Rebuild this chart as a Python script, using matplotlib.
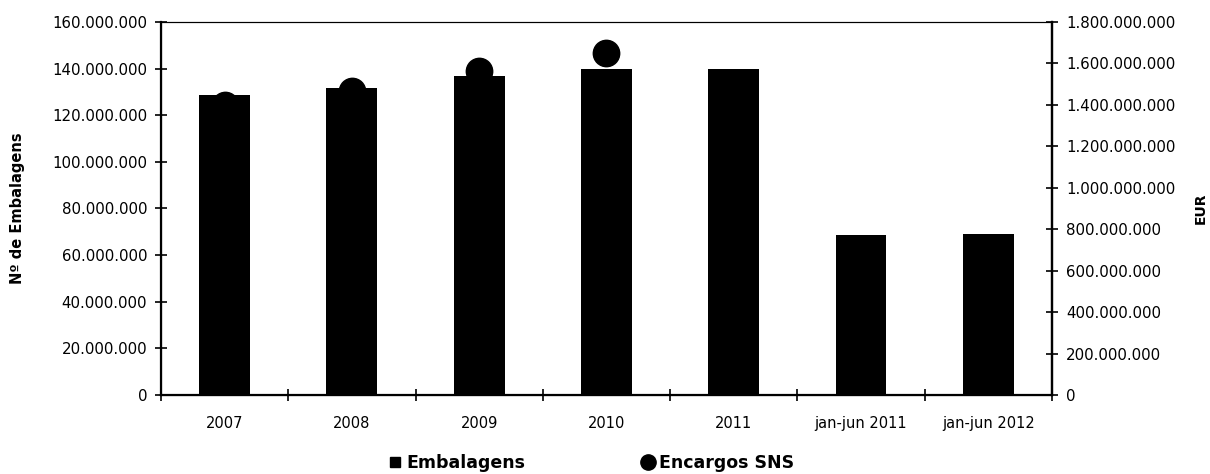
import numpy as np
import matplotlib.pyplot as plt
from matplotlib.lines import Line2D
from matplotlib.ticker import FuncFormatter

categories = ["2007", "2008", "2009", "2010", "2011", "jan-jun 2011", "jan-jun 2012"]
embalagens = [128700000, 131700000, 137000000, 139800000, 139800000, 68600000, 69000000]
encargos_sns = [1397000000, 1469000000, 1561000000, 1648000000, np.nan, np.nan, np.nan]

left_ticks = [0, 20e6, 40e6, 60e6, 80e6, 100e6, 120e6, 140e6, 160e6]
right_ticks = [0, 200e6, 400e6, 600e6, 800e6, 1000e6, 1200e6, 1400e6, 1600e6, 1800e6]


def pt_fmt(v, pos):
    return f"{v:,.0f}".replace(",", ".")


plt.rcParams["font.family"] = ["DejaVu Sans"]

fig = plt.figure(figsize=(12.1, 4.74), dpi=100)
ax = fig.add_axes([0.133, 0.1667, 0.7364, 0.787])
x = np.arange(len(categories))

ax.bar(x, embalagens, width=0.4, color="black", zorder=2)
ax.set_xlim(-0.5, len(categories) - 0.5)
ax.set_ylim(0, 160e6)
ax.set_yticks(left_ticks)
ax.yaxis.set_major_formatter(FuncFormatter(pt_fmt))
ax.set_xticks(x)
ax.set_xticklabels(categories)
ax.set_xticks(np.arange(len(categories) + 1) - 0.5, minor=True)
ax.tick_params(axis="x", which="major", length=0, pad=15, labelsize=10.5)
ax.tick_params(axis="x", which="minor", direction="inout", length=8, width=1.2)
ax.tick_params(axis="y", direction="inout", length=8, width=1.2, labelsize=10.8, pad=6)
ax.set_ylabel("Nº de Embalagens", fontsize=10.5, fontweight="bold")
ax.yaxis.set_label_coords(-0.1526, 0.5)

for s in ["left", "bottom", "right"]:
    ax.spines[s].set_linewidth(1.6)
ax.spines["top"].set_linewidth(0.8)

ax2 = ax.twinx()
ax2.plot(x, encargos_sns, linestyle="none", marker="o", markersize=19,
         color="black", zorder=3)
ax2.set_ylim(0, 1800e6)
ax2.set_yticks(right_ticks)
ax2.yaxis.set_major_formatter(FuncFormatter(pt_fmt))
ax2.tick_params(axis="y", direction="inout", length=8, width=1.2, labelsize=10.8, pad=6)
ax2.set_ylabel("EUR", fontsize=10, fontweight="bold")
ax2.yaxis.set_label_coords(1.159, 0.5)
ax2.spines["right"].set_linewidth(1.6)
ax2.spines["top"].set_linewidth(0.8)

handles = [
    Line2D([], [], linestyle="none", marker="s", markersize=7, color="black", label="Embalagens"),
    Line2D([], [], linestyle="none", marker="o", markersize=11, color="black", label="Encargos SNS"),
]
fig.legend(handles=handles, loc="center", bbox_to_anchor=(592 / 1210, 1 - 463 / 474),
           ncol=2, frameon=False, prop={"size": 12.5, "weight": "bold"},
           handlelength=0.6, handletextpad=0.3, columnspacing=6.8)

fig.savefig("out.png", dpi=100, facecolor="white")
